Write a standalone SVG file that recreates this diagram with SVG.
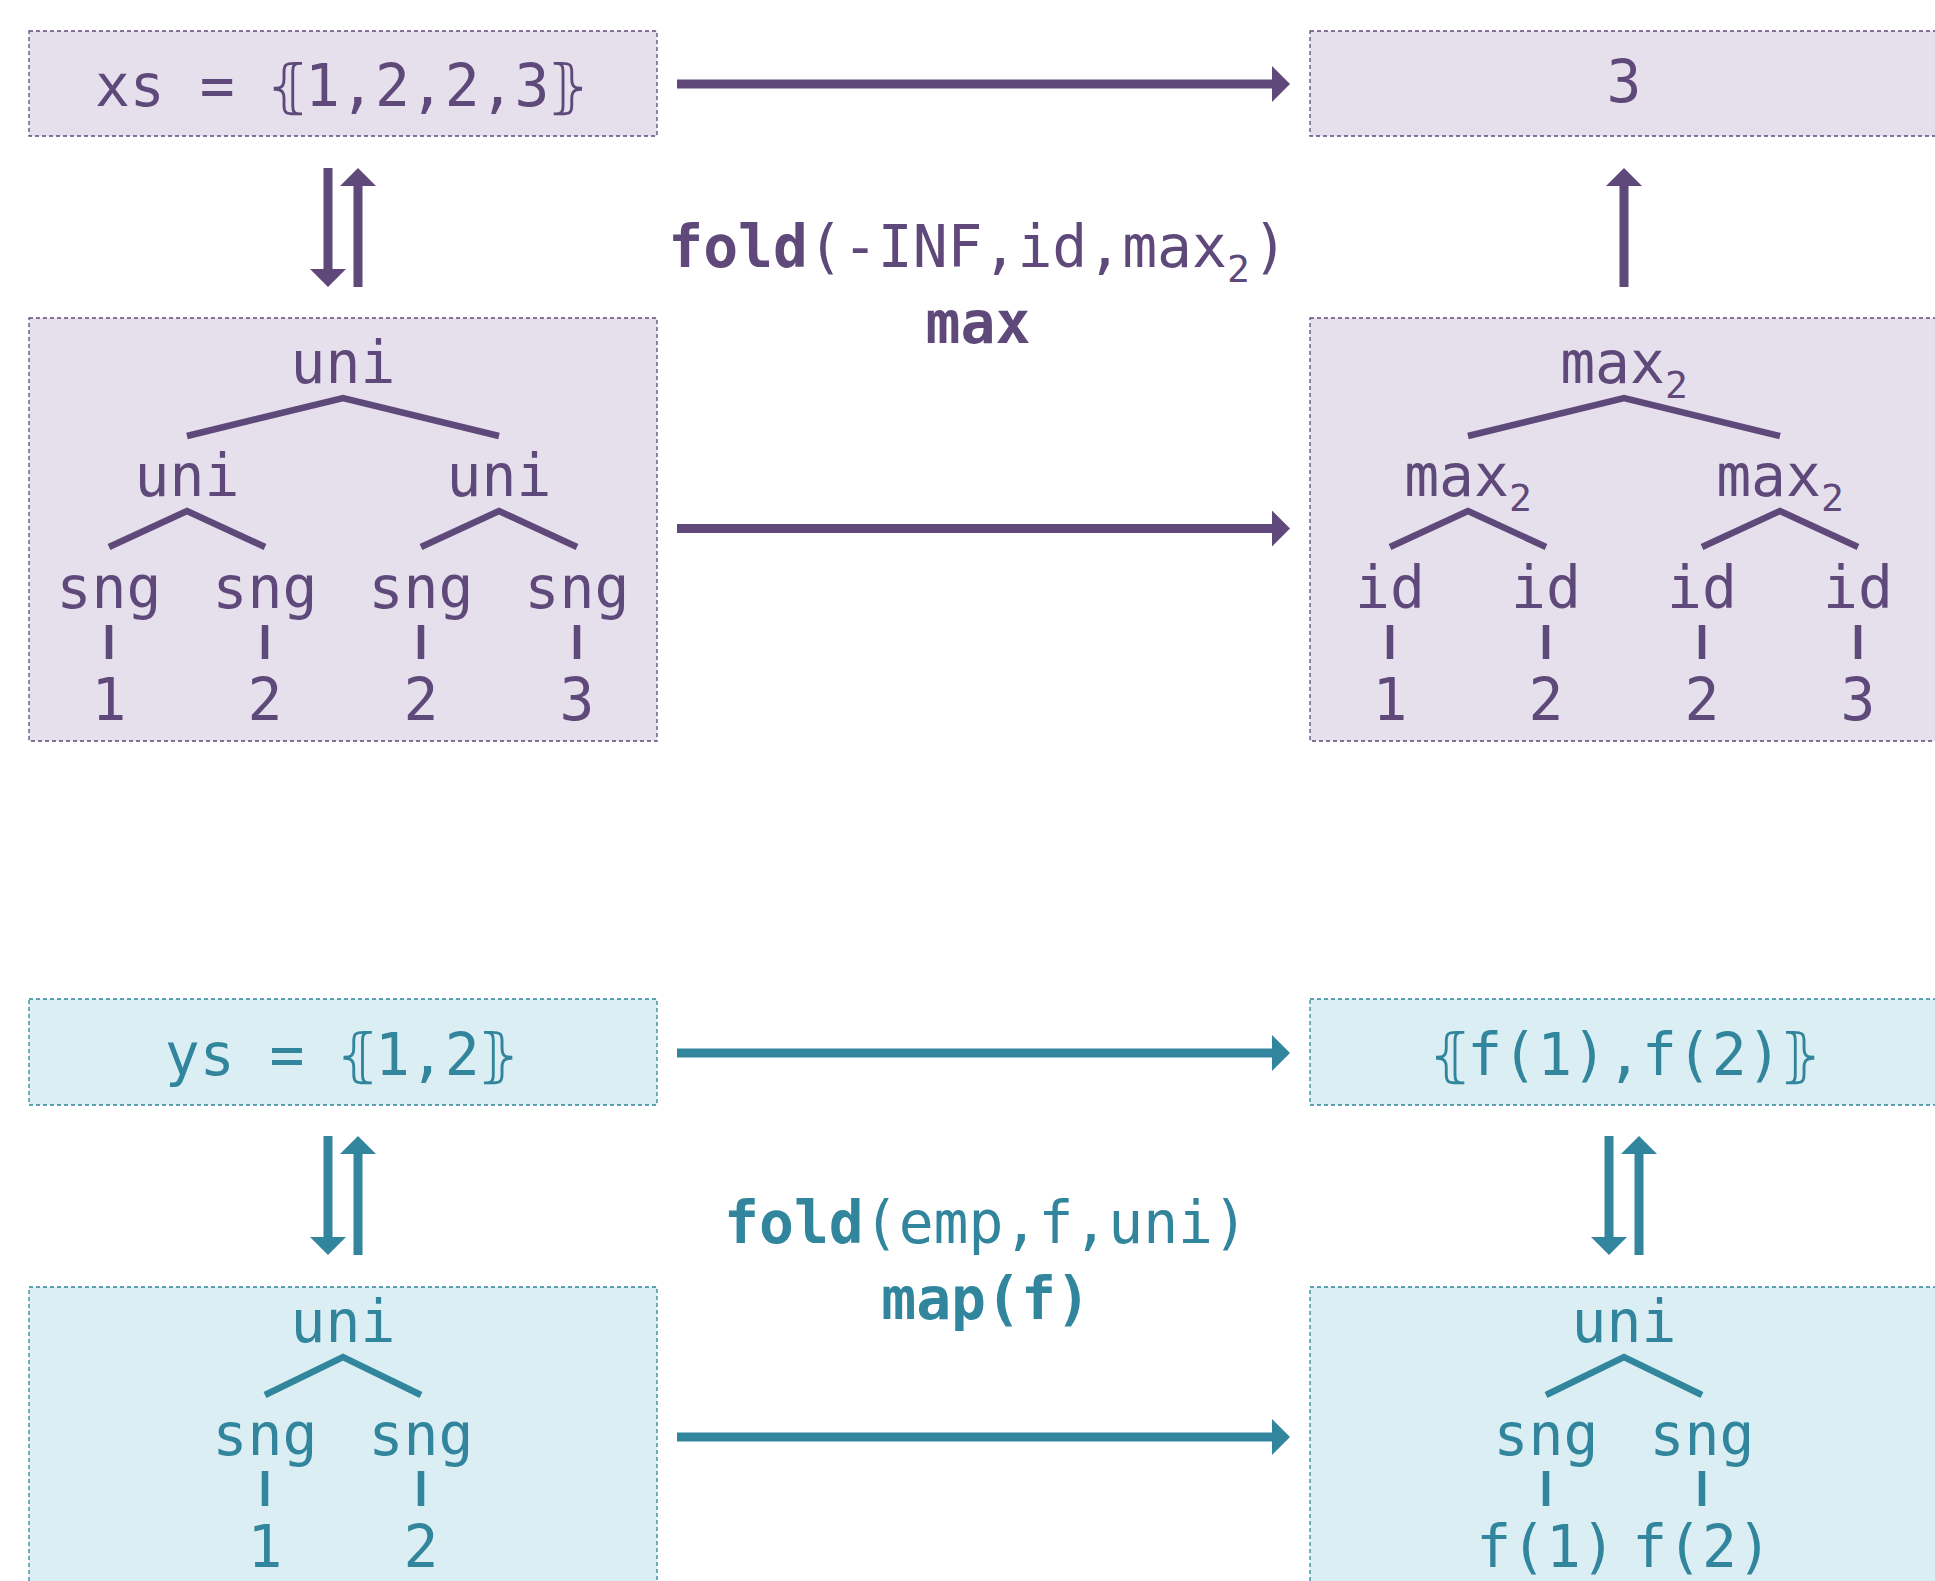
<svg xmlns="http://www.w3.org/2000/svg" width="1935" height="1581" viewBox="0 0 1935 1581">
  <style>
    text { font-family: "DejaVu Sans Mono", "Liberation Mono", "DejaVu Sans", monospace; font-size: 58px; text-anchor: middle; }
    .p { fill: #5F497A; }
    .t { fill: #31859C; }
    .b { font-weight: bold; }
    .sub { font-size: 38px; }
    .boxp { fill: #E5E0EC; stroke: #5F497A; stroke-width: 1.3; stroke-dasharray: 4 3; }
    .boxt { fill: #DAEEF3; stroke: #31859C; stroke-width: 1.3; stroke-dasharray: 4 3; }
    .ep { fill: none; stroke: #5F497A; stroke-width: 6.5; stroke-linejoin: miter; }
    .et { fill: none; stroke: #31859C; stroke-width: 6.5; stroke-linejoin: miter; }
    .ap { fill: none; stroke: #5F497A; stroke-width: 9; marker-end: url(#headP); }
    .at { fill: none; stroke: #31859C; stroke-width: 9; marker-end: url(#headT); }
  </style>
  <defs>
    <marker id="headP" markerUnits="userSpaceOnUse" viewBox="0 0 18 36" markerWidth="18" markerHeight="36" refX="0" refY="18" orient="auto">
      <path d="M0,0 L18,18 L0,36 Z" fill="#5F497A"/>
    </marker>
    <marker id="headT" markerUnits="userSpaceOnUse" viewBox="0 0 18 36" markerWidth="18" markerHeight="36" refX="0" refY="18" orient="auto">
      <path d="M0,0 L18,18 L0,36 Z" fill="#31859C"/>
    </marker>
  </defs>

  <rect width="1935" height="1581" fill="#FFFFFF"/>

  <!-- upper example: maximum of a bag -->
  <g id="node-xs">
    <rect class="boxp" x="29" y="31" width="628" height="105"/>
    <text class="p" x="342" y="106">xs = <tspan dx="-3">⦃</tspan><tspan dx="-4">1,2,2,3</tspan><tspan dx="-3">⦄</tspan></text>
  </g>

  <g id="node-three">
    <rect class="boxp" x="1310" y="31" width="628" height="105"/>
    <text class="p" x="1624" y="102">3</text>
  </g>

  <g id="node-uni-tree">
    <rect class="boxp" x="29" y="318" width="628" height="423"/>
    <text class="p" x="343" y="383">uni</text>
    <polyline class="ep" points="187,436 343,398 499,436"/>
    <text class="p" x="187" y="496">uni</text>
    <text class="p" x="499" y="496">uni</text>
    <polyline class="ep" points="109,547 187,511 265,547"/>
    <polyline class="ep" points="421,547 499,511 577,547"/>
    <text class="p" x="109" y="608">sng</text>
    <text class="p" x="265" y="608">sng</text>
    <text class="p" x="421" y="608">sng</text>
    <text class="p" x="577" y="608">sng</text>
    <path class="ep" d="M109,625 V659 M265,625 V659 M421,625 V659 M577,625 V659"/>
    <text class="p" x="109" y="720">1</text>
    <text class="p" x="265" y="720">2</text>
    <text class="p" x="421" y="720">2</text>
    <text class="p" x="577" y="720">3</text>
  </g>

  <g id="node-max-tree">
    <rect class="boxp" x="1310" y="318" width="628" height="423"/>
    <text class="p" x="1624" y="383">max<tspan class="sub" dy="15">2</tspan></text>
    <polyline class="ep" points="1468,436 1624,398 1780,436"/>
    <text class="p" x="1468" y="496">max<tspan class="sub" dy="15">2</tspan></text>
    <text class="p" x="1780" y="496">max<tspan class="sub" dy="15">2</tspan></text>
    <polyline class="ep" points="1390,547 1468,511 1546,547"/>
    <polyline class="ep" points="1702,547 1780,511 1858,547"/>
    <text class="p" x="1390" y="608">id</text>
    <text class="p" x="1546" y="608">id</text>
    <text class="p" x="1702" y="608">id</text>
    <text class="p" x="1858" y="608">id</text>
    <path class="ep" d="M1390,625 V659 M1546,625 V659 M1702,625 V659 M1858,625 V659"/>
    <text class="p" x="1390" y="720">1</text>
    <text class="p" x="1546" y="720">2</text>
    <text class="p" x="1702" y="720">2</text>
    <text class="p" x="1858" y="720">3</text>
  </g>

  <g id="label-max">
    <text class="p" x="978" y="267"><tspan class="b">fold</tspan>(-INF,id,max<tspan class="sub" dy="15">2</tspan><tspan dx="3" dy="-15">)</tspan></text>
    <text class="p b" x="978" y="343">max</text>
  </g>

  <!-- lower example: mapping over a bag -->
  <g id="node-ys">
    <rect class="boxt" x="29" y="999" width="628" height="106"/>
    <text class="t" x="342" y="1075">ys = <tspan dx="-3">⦃</tspan><tspan dx="-4">1,2</tspan><tspan dx="-3">⦄</tspan></text>
  </g>

  <g id="node-fys">
    <rect class="boxt" x="1310" y="999" width="628" height="106"/>
    <text class="t" x="1625" y="1075">⦃<tspan dx="-4">f(1),f(2)</tspan><tspan dx="-3">⦄</tspan></text>
  </g>

  <g id="node-ys-tree">
    <rect class="boxt" x="29" y="1287" width="628" height="310"/>
    <text class="t" x="343" y="1342">uni</text>
    <polyline class="et" points="265,1395 343,1357 421,1395"/>
    <text class="t" x="265" y="1455">sng</text>
    <text class="t" x="421" y="1455">sng</text>
    <path class="et" d="M265,1471 V1506 M421,1471 V1506"/>
    <text class="t" x="265" y="1567">1</text>
    <text class="t" x="421" y="1567">2</text>
  </g>

  <g id="node-fys-tree">
    <rect class="boxt" x="1310" y="1287" width="628" height="310"/>
    <text class="t" x="1624" y="1342">uni</text>
    <polyline class="et" points="1546,1395 1624,1357 1702,1395"/>
    <text class="t" x="1546" y="1455">sng</text>
    <text class="t" x="1702" y="1455">sng</text>
    <path class="et" d="M1546,1471 V1506 M1702,1471 V1506"/>
    <text class="t" x="1546" y="1567">f(1)</text>
    <text class="t" x="1702" y="1567">f(2)</text>
  </g>

  <g id="label-map">
    <text class="t" x="986" y="1243"><tspan class="b">fold</tspan>(emp,f,uni)</text>
    <text class="t b" x="986" y="1319">map(f)</text>
  </g>

  <g id="connectors">
    <line class="ap" x1="677" y1="84" x2="1272" y2="84"/>
    <line class="ap" x1="677" y1="528.5" x2="1272" y2="528.5"/>
    <line class="ap" x1="328" y1="168" x2="328" y2="269"/>
    <line class="ap" x1="358" y1="287" x2="358" y2="186"/>
    <line class="ap" x1="1624" y1="287" x2="1624" y2="186"/>

    <line class="at" x1="677" y1="1053" x2="1272" y2="1053"/>
    <line class="at" x1="677" y1="1437" x2="1272" y2="1437"/>
    <line class="at" x1="328" y1="1136" x2="328" y2="1237"/>
    <line class="at" x1="358" y1="1255" x2="358" y2="1154"/>
    <line class="at" x1="1609" y1="1136" x2="1609" y2="1237"/>
    <line class="at" x1="1639" y1="1255" x2="1639" y2="1154"/>
  </g>
</svg>
